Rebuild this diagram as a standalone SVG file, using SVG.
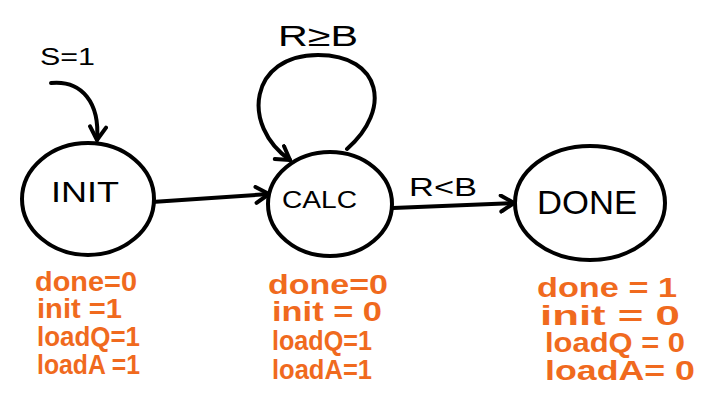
<svg xmlns="http://www.w3.org/2000/svg" width="707" height="409" viewBox="0 0 707 409">
<style>
.node{fill:#fff;stroke:#000;stroke-width:4}
.edge{fill:none;stroke:#000;stroke-width:4;stroke-linecap:round}
.lbl{font-family:"Liberation Sans",Arial,sans-serif;font-size:26px;fill:#000}
.out{font-family:"Liberation Sans",Arial,sans-serif;font-size:27px;font-weight:bold;fill:#f06a1e}
</style>
<defs>
<marker id="arr" viewBox="0 0 20 20" refX="17" refY="10" markerWidth="20" markerHeight="20" markerUnits="userSpaceOnUse" orient="auto">
<path d="M4,2 L17,10 L4,18" fill="none" stroke="#000" stroke-width="4" stroke-linecap="round" stroke-linejoin="round"/>
</marker>
</defs>
<rect width="707" height="409" fill="#fff"/>
<g id="connectors">
<path class="edge" d="M51,83 C82,80 100,103 97,140" marker-end="url(#arr)"/>
<text class="lbl" x="40" y="65" style="font-size:24px" textLength="55" lengthAdjust="spacingAndGlyphs">S=1</text>
<path class="edge" d="M152,202 L269,194" marker-end="url(#arr)"/>
<path class="edge" d="M347,149 C392,110 382,55 318,55 C250,55 240,125 290,160" marker-end="url(#arr)"/>
<text class="lbl" x="278" y="46" style="font-size:29px" textLength="80" lengthAdjust="spacingAndGlyphs">R≥B</text>
<path class="edge" d="M393,208 L514,203" marker-end="url(#arr)"/>
<text class="lbl" x="409" y="196" style="font-size:25px" textLength="68" lengthAdjust="spacingAndGlyphs">R&lt;B</text>
</g>
<g id="INIT">
<ellipse class="node" cx="88" cy="199" rx="66" ry="56"/>
<text class="lbl" x="51" y="202" style="font-size:30px" textLength="68" lengthAdjust="spacingAndGlyphs">INIT</text>
<text class="out" x="35" y="291" textLength="102" lengthAdjust="spacingAndGlyphs">done=0</text>
<text class="out" x="37" y="318" textLength="85" lengthAdjust="spacingAndGlyphs">init =1</text>
<text class="out" x="37" y="346" textLength="103" lengthAdjust="spacingAndGlyphs">loadQ=1</text>
<text class="out" x="37" y="374" textLength="103" lengthAdjust="spacingAndGlyphs">loadA =1</text>
</g>
<g id="CALC">
<ellipse class="node" cx="330" cy="204" rx="62" ry="52"/>
<text class="lbl" x="282" y="208" style="font-size:24px" textLength="75" lengthAdjust="spacingAndGlyphs">CALC</text>
<text class="out" x="268" y="294" textLength="120" lengthAdjust="spacingAndGlyphs">done=0</text>
<text class="out" x="272" y="321" textLength="110" lengthAdjust="spacingAndGlyphs">init = 0</text>
<text class="out" x="272" y="350" textLength="100" lengthAdjust="spacingAndGlyphs">loadQ=1</text>
<text class="out" x="272" y="379" textLength="100" lengthAdjust="spacingAndGlyphs">loadA=1</text>
</g>
<g id="DONE">
<ellipse class="node" cx="590" cy="203" rx="75" ry="57"/>
<text class="lbl" x="537" y="214" style="font-size:33px" textLength="100" lengthAdjust="spacingAndGlyphs">DONE</text>
<text class="out" x="537" y="297" textLength="140" lengthAdjust="spacingAndGlyphs">done = 1</text>
<text class="out" x="540" y="325" textLength="140" lengthAdjust="spacingAndGlyphs">init = 0</text>
<text class="out" x="545" y="352" textLength="140" lengthAdjust="spacingAndGlyphs">loadQ = 0</text>
<text class="out" x="545" y="380" textLength="150" lengthAdjust="spacingAndGlyphs">loadA= 0</text>
</g>
</svg>
